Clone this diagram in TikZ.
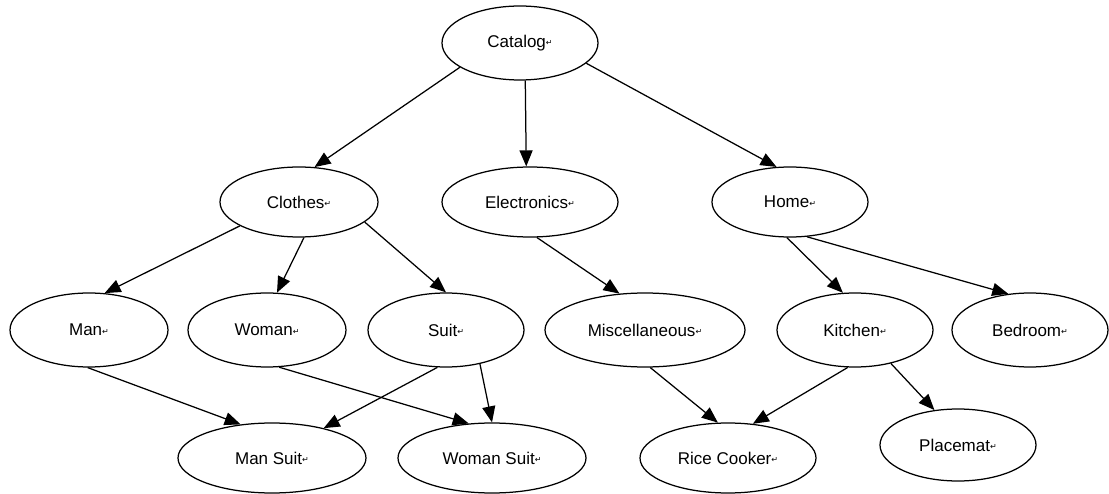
\documentclass[tikz,border=0pt]{standalone}
\usepackage{fontspec}
\setmainfont{Liberation Sans}
\newfontfamily\markfont{DejaVu Sans}
\usetikzlibrary{arrows.meta,shapes.geometric}
\newcommand{\parmk}{{\markfont\fontsize{8}{8}\selectfont\raisebox{1.5pt}{↵}}}
\begin{document}
\begin{tikzpicture}[x=1pt,y=-1pt,
  ell/.style={ellipse,draw,line width=1.25pt,inner sep=0pt,font=\fontsize{17}{19}\selectfont},
  arr/.style={line width=1.25pt,-{Triangle[length=16pt,width=13pt]}}]
\useasboundingbox (0,0) rectangle (1109,494);
\clip (0,0) rectangle (1109,494);
\fill[white] (0,0) rectangle (1109,494);
\node[ell,minimum width=156pt,minimum height=74pt] (catalog) at (520,43) {Catalog\parmk};
\node[ell,minimum width=158pt,minimum height=70pt] (clothes) at (299,202) {Clothes\parmk};
\node[ell,minimum width=176pt,minimum height=70pt] (electronics) at (530,202) {Electronics\parmk};
\node[ell,minimum width=156pt,minimum height=70pt] (home) at (790,202) {Home\parmk};
\node[ell,minimum width=158pt,minimum height=74pt] (man) at (89,330) {Man\parmk};
\node[ell,minimum width=158pt,minimum height=74pt] (woman) at (267,330) {Woman\parmk};
\node[ell,minimum width=156pt,minimum height=74pt] (suit) at (446,330) {Suit\parmk};
\node[ell,minimum width=200pt,minimum height=74pt] (misc) at (645,330) {Miscellaneous\parmk};
\node[ell,minimum width=156pt,minimum height=74pt] (kitchen) at (855,330) {Kitchen\parmk};
\node[ell,minimum width=156pt,minimum height=74pt] (bedroom) at (1030,330) {Bedroom\parmk};
\node[ell,minimum width=188pt,minimum height=70pt] (mansuit) at (272,458) {Man Suit\parmk};
\node[ell,minimum width=188pt,minimum height=70pt] (womansuit) at (492,458) {Woman Suit\parmk};
\node[ell,minimum width=176pt,minimum height=70pt] (rice) at (728,458) {Rice Cooker\parmk};
\node[ell,minimum width=156pt,minimum height=72pt] (placemat) at (958,445) {Placemat\parmk};
\draw[arr] (catalog.-158) -- (clothes.66);
\draw[arr] (catalog.-82) -- (electronics.96);
\draw[arr] (catalog.-17) -- (home.111);
\draw[arr] (clothes.-158) -- (man.67);
\draw[arr] (clothes.-82) -- (woman.75);
\draw[arr] (clothes.-17) -- (suit.90);
\draw[arr] (electronics.-79) -- (misc.125);
\draw[arr] (home.-95) -- (kitchen.108);
\draw[arr] (home.-64) -- (bedroom.121);
\draw[arr] (man.-92) -- (mansuit.133);
\draw[arr] (woman.-72) -- (womansuit.124);
\draw[arr] (suit.-103) -- (mansuit.30);
\draw[arr] (suit.-45) -- (womansuit.90);
\draw[arr] (misc.-82) -- (rice.106);
\draw[arr] (kitchen.-101) -- (rice.54);
\draw[arr] (kitchen.-43) -- (placemat.124);
\end{tikzpicture}
\end{document}
